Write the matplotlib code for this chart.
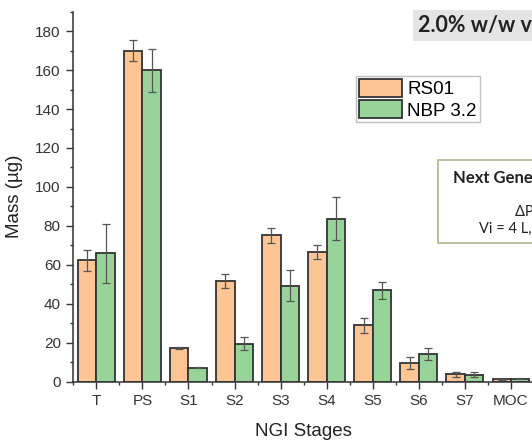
import numpy as np
import matplotlib
matplotlib.use("Agg")
import matplotlib.pyplot as plt
from matplotlib.patches import Rectangle
from matplotlib.ticker import MultipleLocator

plt.rcParams['font.family'] = ['Liberation Sans', 'DejaVu Sans']

# NGI deposition per stage (µg), mean and SD
stages = ['T', 'PS', 'S1', 'S2', 'S3', 'S4', 'S5', 'S6', 'S7', 'MOC']
rs01 = [62.3, 170, 17.1, 51.5, 75.2, 66.4, 28.8, 9.6, 3.8, 1.2]
rs01_sd = [5.5, 5.5, 0.5, 3.5, 3.8, 3.5, 4.0, 3.0, 1.3, 0.3]
nbp32 = [65.8, 160, 7.0, 19.4, 49.3, 83.6, 46.8, 14.2, 3.4, 1.5]
nbp32_sd = [15.0, 11.0, 0.3, 3.3, 8.0, 11.0, 4.2, 3.0, 1.3, 0.4]

ORANGE = '#FDC593'
GREEN = '#98D49A'
EDGE = '#333333'
ERR = '#555555'

fig = plt.figure(figsize=(5.32, 4.41), dpi=100)
ax = fig.add_axes([0.1378, 0.1349, 0.866, 0.8384])

x = np.arange(len(stages))
w = 0.4
err_kw = dict(ecolor=ERR, elinewidth=0.9, capsize=3.2, capthick=0.9)
ax.bar(x - w / 2, rs01, w, yerr=rs01_sd, color=ORANGE, edgecolor=EDGE,
       linewidth=1.3, error_kw=err_kw, label='RS01')
ax.bar(x + w / 2, nbp32, w, yerr=nbp32_sd, color=GREEN, edgecolor=EDGE,
       linewidth=1.3, error_kw=err_kw, label='NBP 3.2')

ax.set_xlim(-0.5, 9.5)
ax.set_ylim(0, 190)
ax.set_xticks(x)
ax.set_xticklabels(stages)
ax.xaxis.set_minor_locator(MultipleLocator(1, offset=0.5))
ax.yaxis.set_major_locator(MultipleLocator(20))
ax.yaxis.set_minor_locator(MultipleLocator(10))
ax.tick_params(axis='both', which='major', direction='out', length=5,
               width=1, labelsize=11, colors='#333333', pad=4)
ax.tick_params(axis='both', which='minor', direction='out', length=2.5,
               width=1, colors='#333333')
for s in ('top', 'right'):
    ax.spines[s].set_visible(False)
for s in ('left', 'bottom'):
    ax.spines[s].set_linewidth(1.1)
    ax.spines[s].set_color('#333333')

ax.set_xlabel('NGI Stages', fontsize=13.5, color='#222222', labelpad=11)
ax.set_ylabel('Mass (µg)', fontsize=13.5, color='#222222', labelpad=9)

leg = ax.legend(loc='upper left', bbox_to_anchor=(0.669, 0.828),
                bbox_transform=fig.transFigure, borderaxespad=0,
                fontsize=13.5, frameon=True, fancybox=False,
                handlelength=2.3, handleheight=1.1, handletextpad=0.3,
                labelspacing=0.12, borderpad=0.15)
leg.get_frame().set_edgecolor('#b0b0b0')
leg.get_frame().set_linewidth(1.0)

W, H = 532.0, 441.0
calibri = ['Lato', 'DejaVu Sans']

# formulation banner, runs off the right edge
fig.text(418 / W, 1 - 25.5 / H, '2.0% w/w vehicle', fontsize=15.5,
         fontweight='bold', family=calibri, ha='left', va='center',
         color='#222222',
         bbox=dict(boxstyle='square,pad=0.25', facecolor='#e4e4e4',
                   edgecolor='none'))

# impactor settings box
fig.patches.append(Rectangle((438 / W, 1 - 243 / H), 0.6, 83 / H,
                             transform=fig.transFigure, facecolor='white',
                             edgecolor='#b3b38c', linewidth=1.2))
cx = 550 / W
fig.text(cx, 1 - 178 / H, 'Next Generation Impactor', fontsize=12,
         fontweight='bold', family=calibri, ha='center', va='center',
         color='#222222')
fig.text(cx, 1 - 212 / H, 'ΔP = 4 kPa', fontsize=10.5, family=calibri,
         ha='center', va='center', color='#222222')
fig.text(cx, 1 - 229 / H, 'Vi = 4 L, Q = 60 L/min', fontsize=10.5,
         family=calibri, ha='center', va='center', color='#222222')

fig.savefig('out.png', dpi=100)
